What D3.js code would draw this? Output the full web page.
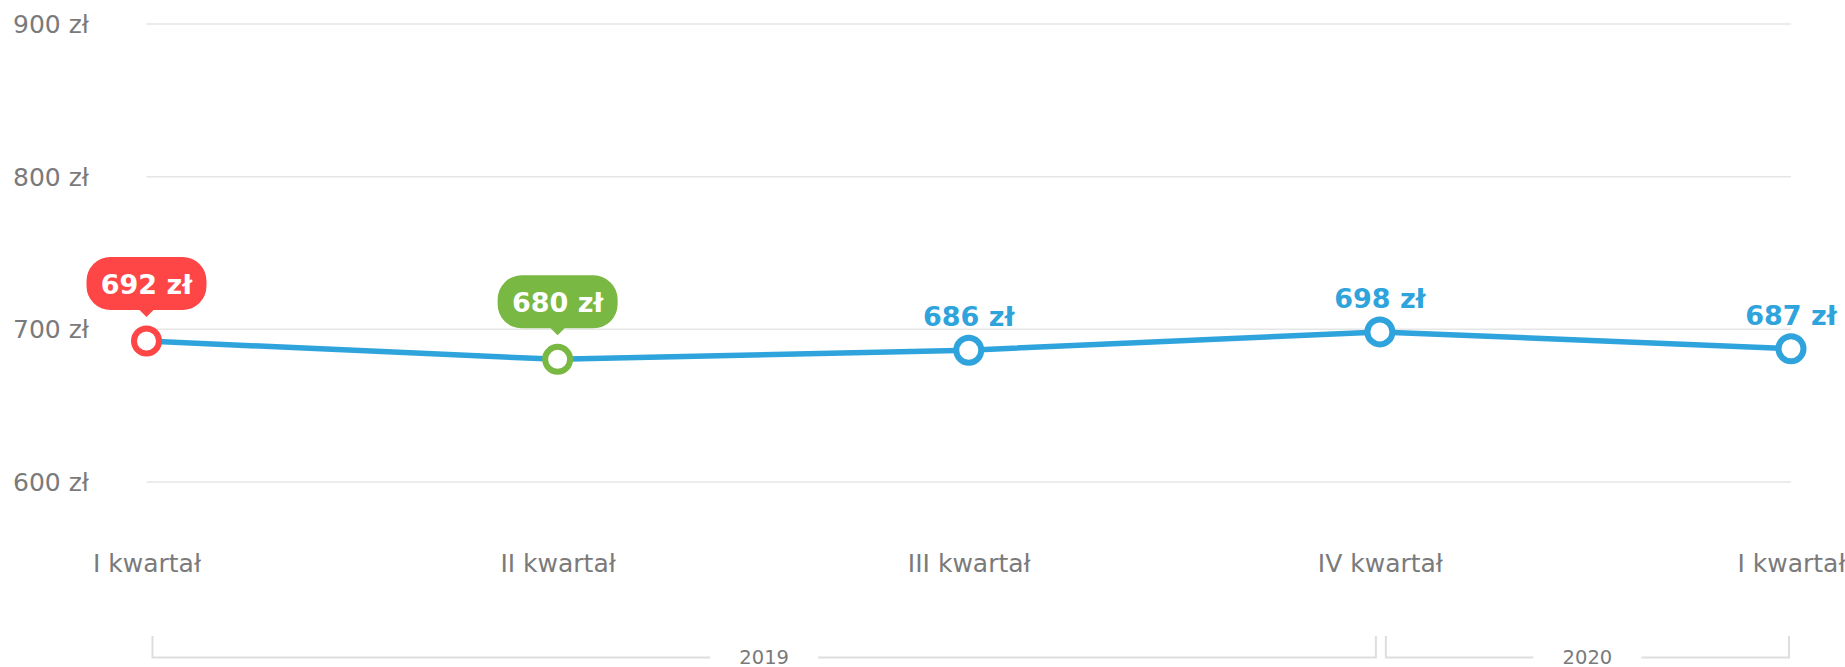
<!DOCTYPE html>
<html>
<head>
<meta charset="utf-8">
<script src="https://cdn.jsdelivr.net/npm/d3@7"></script>
<style>
  html, body { margin: 0; padding: 0; background: #fff; }
  svg { display: block; font-family: "DejaVu Sans", sans-serif; }
</style>
</head>
<body>
<div id="chart"></div>
<script>
// Quarterly values
const quarters = ['I kwartał', 'II kwartał', 'III kwartał', 'IV kwartał', 'I kwartał'];
const values = [692, 680, 686, 698, 687];
const yTicks = [600, 700, 800, 900];
const years = ['2019', '2020'];
const yearFirst = [0, 3];
const yearLast = [3, 4];
const badgeIdx = [0, 1];

const width = 1845, height = 667;
const blue = '#2ea3dc', red = '#fe4646', green = '#78b843';
const grey = '#7a7a7a', grid = '#e6e6e6';
const badgeColor = i => i === 0 ? red : green;

const x = d3.scalePoint().domain(d3.range(quarters.length)).range([146.5, 1791]);
const y = d3.scaleLinear().domain([600, 900]).range([481.5, 23.5]);

const svg = d3.select('#chart').append('svg')
  .attr('width', width)
  .attr('height', height);

// Horizontal grid + left labels
const yAxis = svg.append('g')
  .attr('transform', `translate(${x.range()[0]},0)`)
  .call(d3.axisRight(y).tickValues(yTicks).tickSize(x.range()[1] - x.range()[0]).tickFormat(d => `${d} zł`));
yAxis.select('.domain').remove();
yAxis.selectAll('line').attr('stroke', grid).attr('stroke-width', 1.5);
yAxis.selectAll('text')
  .attr('x', 13 - x.range()[0])
  .attr('dy', '0.36em')
  .attr('text-anchor', 'start')
  .attr('fill', grey)
  .attr('font-size', 25)
  .attr('font-family', '"DejaVu Sans", sans-serif');

// Quarter labels
const xAxis = svg.append('g')
  .attr('transform', 'translate(0,572)')
  .call(d3.axisBottom(x).tickSize(0).tickFormat(i => quarters[i]));
xAxis.select('.domain').remove();
xAxis.selectAll('text')
  .attr('y', 0)
  .attr('dy', 0)
  .attr('fill', grey)
  .attr('font-size', 25)
  .attr('font-family', '"DejaVu Sans", sans-serif');

// Year brackets under the quarter labels
const bracketTop = 636, bracketY = 657.5;
years.forEach((year, k) => {
  const x0 = x(yearFirst[k]) + 6;
  const x1 = x(yearLast[k]) - (k === 0 ? 4 : 2);
  const mid = (x0 + x1) / 2;
  const gap = 54;
  const g = svg.append('g')
    .attr('fill', 'none')
    .attr('stroke', '#dedede')
    .attr('stroke-width', 2);
  g.append('path').attr('d', `M${x0},${bracketTop}V${bracketY}H${mid - gap}`);
  g.append('path').attr('d', `M${mid + gap},${bracketY}H${x1}V${bracketTop}`);
  svg.append('text')
    .attr('x', mid)
    .attr('y', 664)
    .attr('text-anchor', 'middle')
    .attr('fill', grey)
    .attr('font-size', 19.5)
    .text(year);
});

// The line
const line = d3.line()
  .x((d, i) => x(i))
  .y(d => y(d));

svg.append('path')
  .datum(values)
  .attr('fill', 'none')
  .attr('stroke', blue)
  .attr('stroke-width', 5.5)
  .attr('stroke-linejoin', 'round')
  .attr('d', line);

// Points
svg.append('g')
  .selectAll('circle')
  .data(values)
  .join('circle')
  .attr('cx', (d, i) => x(i))
  .attr('cy', d => y(d))
  .attr('r', 12.5)
  .attr('fill', '#fff')
  .attr('stroke', (d, i) => badgeIdx.includes(i) ? badgeColor(i) : blue)
  .attr('stroke-width', 6);

const label = v => `${v} zł`;

// Plain blue value labels
svg.append('g')
  .selectAll('text')
  .data(values.map((v, i) => ({ v, i })).filter(d => !badgeIdx.includes(d.i)))
  .join('text')
  .attr('x', d => x(d.i))
  .attr('y', d => y(d.v) - 24)
  .attr('text-anchor', 'middle')
  .attr('fill', blue)
  .attr('font-weight', 'bold')
  .attr('font-size', 27)
  .text(d => label(d.v));

// Pill badges with a small pointer
const bw = 120, bh = 53, br = 24;
badgeIdx.forEach(i => {
  const cx = x(i), cy = y(values[i]);
  const bottom = cy - 31;
  const top = bottom - bh;
  const l = cx - bw / 2, r = cx + bw / 2;
  const p = d3.path();
  p.moveTo(l + br, top);
  p.lineTo(r - br, top);
  p.arcTo(r, top, r, top + br, br);
  p.lineTo(r, bottom - br);
  p.arcTo(r, bottom, r - br, bottom, br);
  p.lineTo(cx + 7, bottom);
  p.lineTo(cx, bottom + 7);
  p.lineTo(cx - 7, bottom);
  p.lineTo(l + br, bottom);
  p.arcTo(l, bottom, l, bottom - br, br);
  p.lineTo(l, top + br);
  p.arcTo(l, top, l + br, top, br);
  p.closePath();
  svg.append('path').attr('d', p.toString()).attr('fill', badgeColor(i));
  svg.append('text')
    .attr('x', cx)
    .attr('y', top + bh / 2 + 10)
    .attr('text-anchor', 'middle')
    .attr('fill', '#fff')
    .attr('font-weight', 'bold')
    .attr('font-size', 27)
    .text(label(values[i]));
});
</script>
</body>
</html>
